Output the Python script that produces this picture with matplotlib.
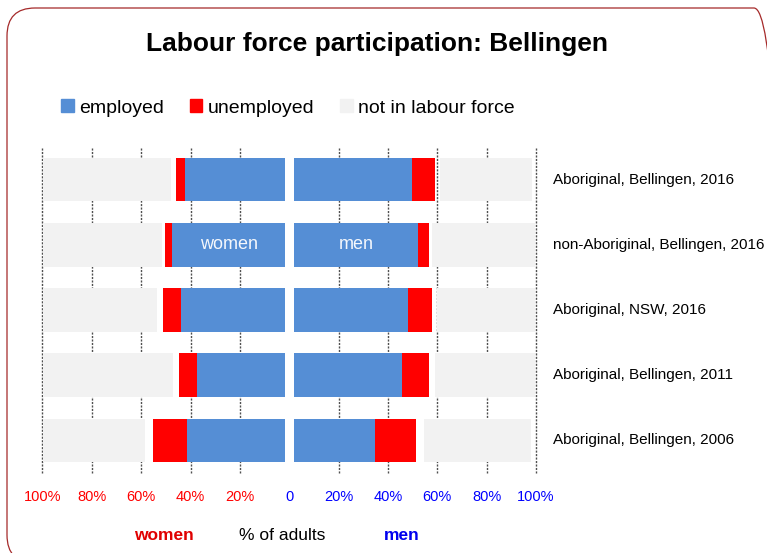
import matplotlib.pyplot as plt
from matplotlib.patches import FancyBboxPatch, Patch

plt.rcParams['font.family'] = ['Liberation Sans', 'DejaVu Sans']

# data (% of adults)
categories = ["Aboriginal, Bellingen, 2016", "non-Aboriginal, Bellingen, 2016",
              "Aboriginal, NSW, 2016", "Aboriginal, Bellingen, 2011",
              "Aboriginal, Bellingen, 2006"]

women_employed = [40.5, 45.6, 42.1, 35.7, 39.8]
women_unemployed = [3.6, 3.0, 7.3, 7.2, 13.6]
women_not_stated = [1.9, 1.1, 2.4, 2.5, 3.3]
women_nilf = [52.2, 48.5, 46.4, 53.0, 41.1]

men_employed = [47.8, 50.5, 46.4, 43.9, 32.9]
men_unemployed = [9.3, 4.3, 9.5, 11.0, 16.8]
men_not_stated = [2.1, 1.4, 2.0, 2.4, 3.1]
men_nilf = [37.4, 41.6, 39.9, 40.5, 43.3]

tick_vals = [-100, -80, -60, -40, -20, 0, 20, 40, 60, 80, 100]
tick_labels = ["100%", "80%", "60%", "40%", "20%", "0", "20%", "40%", "60%", "80%", "100%"]

BLUE = '#558ED5'
RED = '#FF0000'
GREY = '#F2F2F2'
GAP = 1.8  # gap either side of the centre line

fig = plt.figure(figsize=(7.67, 5.53), dpi=100)
ax = fig.add_axes([42.5 / 767, 1 - 473 / 553, (536 - 42.5) / 767, (473 - 147) / 553])

y = list(range(len(categories)))
h = 0.67

for sign, emp, unemp, ns, nilf in [(-1, women_employed, women_unemployed, women_not_stated, women_nilf),
                                   (1, men_employed, men_unemployed, men_not_stated, men_nilf)]:
    for i in y:
        start = GAP
        ax.barh(i, sign * emp[i], left=sign * start, height=h, color=BLUE, zorder=2)
        start += emp[i]
        ax.barh(i, sign * unemp[i], left=sign * start, height=h, color=RED, zorder=2)
        start += unemp[i] + ns[i]
        ax.barh(i, sign * nilf[i], left=sign * start, height=h, color=GREY, zorder=2)

# dashed gridlines (none at the centre)
for t in tick_vals:
    if t != 0:
        ax.axvline(t, color='#505050', linestyle=(0, (1.5, 1)), linewidth=1, zorder=1,
                   clip_on=False)

ax.set_xlim(-100, 100)
ax.set_ylim(len(categories) - 0.5, -0.5)
ax.set_yticks([])
ax.set_xticks(tick_vals)
ax.set_xticklabels(tick_labels, fontsize=10.5)
for t, lab in zip(tick_vals, ax.get_xticklabels()):
    lab.set_color(RED if t < 0 else '#0000FF')
ax.tick_params(axis='x', length=0, pad=12)
for s in ax.spines.values():
    s.set_visible(False)

for i, cat in enumerate(categories):
    ax.text(1.0345, i, cat, transform=ax.get_yaxis_transform(), fontsize=11,
            va='center', ha='left')

ax.text(-(GAP + women_employed[1] / 2), 1, "women", color='#F4F7FC', fontsize=13,
        ha='center', va='center', zorder=3)
ax.text(GAP + men_employed[1] / 2, 1, "men", color='#F4F7FC', fontsize=13,
        ha='center', va='center', zorder=3)

fig.text(377 / 767, 1 - 44 / 553, "Labour force participation: Bellingen",
         fontsize=19, fontweight='bold', ha='center', va='center')

handles = [Patch(color=BLUE), Patch(color=RED), Patch(color=GREY)]
fig.legend(handles, ["employed", "unemployed", "not in labour force"], ncol=3,
           loc='center left', bbox_to_anchor=(61 / 767, 1 - 108 / 553), frameon=False,
           fontsize=14, handlelength=0.65, handleheight=0.65, handletextpad=0.3,
           columnspacing=1.3, borderpad=0, borderaxespad=0)

fig.text(164 / 767, 1 - 535 / 553, "women", color='#E00000', fontsize=12.5,
         fontweight='bold', ha='center', va='center')
fig.text(282 / 767, 1 - 535 / 553, "% of adults", color='black', fontsize=12.5,
         ha='center', va='center')
fig.text(402 / 767, 1 - 535 / 553, "men", color='#0000EE', fontsize=12.5,
         fontweight='bold', ha='center', va='center')

# rounded border
border = FancyBboxPatch((0.07, -0.1), 7.75, 5.55, boxstyle="round,pad=0,rounding_size=0.28",
                        transform=fig.dpi_scale_trans, facecolor='none',
                        edgecolor='#A52A2A', linewidth=0.9)
fig.patches.append(border)

fig.savefig("out.png", dpi=100)
